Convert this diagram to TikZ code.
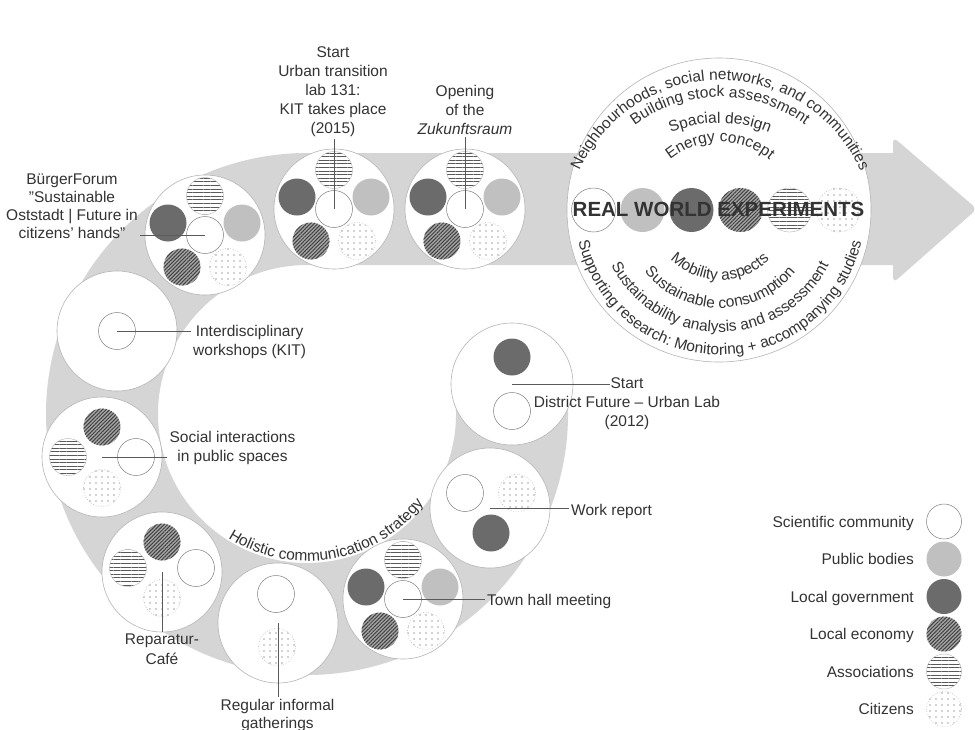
\documentclass[tikz,border=0pt]{standalone}
\usepackage{fontspec}
\setmainfont{Liberation Sans}
\usetikzlibrary{calc, patterns.meta, decorations.text}

\definecolor{ink}{HTML}{333333}
\definecolor{bandgrey}{HTML}{D5D5D5}
\definecolor{pubgrey}{HTML}{C0C0C0}
\definecolor{govgrey}{HTML}{6B6B6B}
\definecolor{rimgrey}{HTML}{B5B5B5}
\definecolor{leadgrey}{HTML}{5A5A5A}

\begin{document}
\begin{tikzpicture}[
    x=1pt, y=1pt,
    band/.style={
        draw=bandgrey,
        line width=112pt,
    },
    stage/.style={
        circle,
        draw=rimgrey,
        line width=0.6pt,
        fill=white,
        minimum size=120pt,
        inner sep=0pt,
    },
    actor/.style={
        circle,
        minimum size=37pt,
        inner sep=0pt,
    },
    sci/.style={actor, draw=rimgrey!70!black, line width=0.5pt, fill=white},
    pub/.style={actor, fill=pubgrey},
    gov/.style={actor, fill=govgrey},
    eco/.style={actor, preaction={fill=black!35}, pattern={Lines[angle=45, distance=2.6pt, line width=1pt]}, pattern color=black!75},
    assoc/.style={actor, draw=rimgrey, line width=0.4pt, preaction={fill=white}, pattern={Lines[angle=0, distance=3.6pt, line width=0.9pt]}, pattern color=black!65},
    cit/.style={actor, draw=rimgrey, dotted, line width=0.6pt, preaction={fill=white}, pattern={Dots[distance=6pt, radius=0.55pt]}, pattern color=black!75},
    leader/.style={
        draw=leadgrey,
        line width=0.7pt,
    },
    milestone/.style={
        font=\fontsize{15.5}{19}\selectfont,
        text=ink,
        align=center,
        inner sep=2pt,
    },
    arctext/.style={
        decorate,
        decoration={text along path, text align=center,
            text={|\fontsize{15.5}{19}\selectfont\color{ink}|#1}},
    },
]
    % Frame
    \useasboundingbox (0,0) rectangle (975,-729);
    \fill[white] (0,0) rectangle (975,-729);

    % Spiral band and arrow head
    \coordinate (hole) at (307,-414);
    \draw[band] ([shift={(8:205)}]hole) arc[start angle=8, end angle=-270, radius=205] -- (893,-209);
    \fill[bandgrey, rounded corners=6pt] (893,-137) -- (977,-209) -- (893,-283) -- cycle;
    \path[arctext={Holistic communication strategy}] ([shift={(-131:147)}]hole) arc[start angle=-131, end angle=-29, radius=147];

    % Stages with all six actors
    \foreach \g/\cx/\cy in {buerger/205/235, urban/334/209, opening/465/209, townhall/403/599} {
        \node[stage] (\g) at (\cx,-\cy) {};
        \node[sci] (\g-sci) at (\g) {};
        \node[assoc] (\g-assoc) at ($(\g)+(0,39)$) {};
        \node[gov] (\g-gov) at ($(\g)+(-37,12)$) {};
        \node[pub] (\g-pub) at ($(\g)+(37,12)$) {};
        \node[eco] (\g-eco) at ($(\g)+(-23,-32)$) {};
        \node[cit] (\g-cit) at ($(\g)+(23,-32)$) {};
    }

    % Other stages
    \node[stage, minimum size=122pt] (district) at (512,-384) {};
    \node[gov] (district-gov) at (512,-357) {};
    \node[sci] (district-sci) at (512,-411) {};

    \node[stage] (work) at (490,-508) {};
    \node[sci] (work-sci) at (465,-493) {};
    \node[cit] (work-cit) at (517,-493) {};
    \node[gov] (work-gov) at (491,-533) {};

    \node[stage] (regular) at (278,-623) {};
    \node[sci] (regular-sci) at (276,-594) {};
    \node[cit] (regular-cit) at (277,-647) {};

    \node[stage] (repair) at (162,-572) {};
    \node[eco] (repair-eco) at (162,-542) {};
    \node[assoc] (repair-assoc) at (128,-568) {};
    \node[sci] (repair-sci) at (196,-568) {};
    \node[cit] (repair-cit) at (162,-598) {};

    \node[stage] (social) at (102,-457) {};
    \node[eco] (social-eco) at (102,-427) {};
    \node[assoc] (social-assoc) at (68,-457) {};
    \node[sci] (social-sci) at (136,-457) {};
    \node[cit] (social-cit) at (102,-488) {};

    \node[stage] (workshop) at (117,-331) {};
    \node[sci] (workshop-sci) at (117,-331) {};

    % Real world experiments
    \node[stage, minimum size=304pt] (rwe) at (719,-210) {};
    \node[sci, minimum size=44pt] (rwe-sci) at (593.5,-210) {};
    \node[pub, minimum size=44pt] (rwe-pub) at (642.5,-210) {};
    \node[gov, minimum size=44pt] (rwe-gov) at (691.5,-210) {};
    \node[eco, minimum size=44pt] (rwe-eco) at (740.5,-210) {};
    \node[assoc, minimum size=44pt] (rwe-assoc) at (789.5,-210) {};
    \node[cit, minimum size=44pt] (rwe-cit) at (838.5,-210) {};
    \node[font=\fontsize{20.5}{24}\selectfont\bfseries, text=ink, anchor=base] (rwe-title) at (718.5,-216) {REAL WORLD EXPERIMENTS};

    \path[arctext={Neighbourhoods, social networks, and communities}] ([shift={(172:154)}]720,-234) arc[start angle=172, end angle=8, radius=154];
    \path[arctext={Building stock assessment}] ([shift={(150:143)}]720,-240) arc[start angle=150, end angle=30, radius=143];
    \path[arctext={Spacial design}] ([shift={(130:127)}]720,-250) arc[start angle=130, end angle=50, radius=127];
    \path[arctext={Energy concept}] ([shift={(160:78)}]720,-220) arc[start angle=160, end angle=20, radius=78];
    \path[arctext={Mobility aspects}] ([shift={(-170:70)}]720,-210) arc[start angle=-170, end angle=-10, radius=70];
    \path[arctext={Sustainable consumption}] ([shift={(-170:97)}]720,-211) arc[start angle=-170, end angle=-10, radius=97];
    \path[arctext={Sustainability analysis and assessment}] ([shift={(-175:122)}]720,-210) arc[start angle=-175, end angle=-5, radius=122];
    \path[arctext={Supporting research: Monitoring + accompanying studies}] ([shift={(-178:145)}]720,-210) arc[start angle=-178, end angle=-2, radius=145];

    % Milestone labels
    \node[milestone, anchor=north] (urban-label) at (333,-44.7) {Start\\Urban transition\\lab 131:\\KIT takes place\\(2015)};
    \node[milestone, anchor=north] (opening-label) at (465,-83.5) {Opening\\of the\\\textit{Zukunftsraum}};
    \node[milestone, anchor=north, font=\fontsize{15.5}{18}\selectfont] (buerger-label) at (72,-171.7) {BürgerForum\\\symbol{34}Sustainable\\Oststadt | Future in\\citizens\symbol{39} hands\symbol{34}};
    \node[milestone, anchor=north west] (workshop-label) at (191,-322.7) {Interdisciplinary\\workshops (KIT)};
    \node[milestone, anchor=north] (social-label) at (232.5,-428.7) {Social interactions\\in public spaces};
    \node[milestone, anchor=north, font=\fontsize{15.5}{20}\selectfont] (repair-label) at (162,-631.7) {Reparatur-\\Café};
    \node[milestone, anchor=north, font=\fontsize{15.5}{18.5}\selectfont] (regular-label) at (277.5,-696.7) {Regular informal\\gatherings};
    \node[milestone, anchor=base west] (townhall-label) at (485,-605) {Town hall meeting};
    \node[milestone, anchor=base west] (work-label) at (569,-515) {Work report};
    \node[milestone, anchor=north] (district-label) at (627,-375.7) {Start\\District Future -- Urban Lab\\(2012)};

    % Leaders
    \coordinate (district-tip) at (610,-384);
    \draw[leader] (district.center) -- (district-tip);
    \draw[leader] (work.center) -- (work.center -| work-label.west);
    \draw[leader] (townhall-sci.center) -- (townhall-sci.center -| townhall-label.west);
    \draw[leader] (regular.center) -- (regular.center |- regular-label.north);
    \draw[leader] (repair.center) -- (repair.center |- repair-label.north);
    \draw[leader] (social.center) -- (social.center -| social-label.west);
    \draw[leader] (workshop.center) -- (workshop.center -| workshop-label.west);
    \draw[leader] (buerger-sci.center) -- (buerger-sci.center -| buerger-label.east);
    \draw[leader] (urban-sci.center) -- (urban-sci.center |- urban-label.south);
    \draw[leader] (opening-sci.center) -- (opening-sci.center |- opening-label.south);

    % Legend
    \node[sci, minimum size=35pt] (key-sci) at (944,-521.5) {};
    \node[pub, minimum size=35pt] (key-pub) at (944,-559) {};
    \node[gov, minimum size=35pt] (key-gov) at (944,-596.5) {};
    \node[eco, minimum size=35pt] (key-eco) at (944,-634) {};
    \node[assoc, minimum size=35pt] (key-assoc) at (944,-671.5) {};
    \node[cit, minimum size=35pt] (key-cit) at (944,-709) {};
    \node[milestone, anchor=base east] (key-sci-text) at (916,-527) {Scientific community};
    \node[milestone, anchor=base east] (key-pub-text) at (916,-564.5) {Public bodies};
    \node[milestone, anchor=base east] (key-gov-text) at (916,-602) {Local government};
    \node[milestone, anchor=base east] (key-eco-text) at (916,-639.5) {Local economy};
    \node[milestone, anchor=base east] (key-assoc-text) at (916,-677) {Associations};
    \node[milestone, anchor=base east] (key-cit-text) at (916,-714.5) {Citizens};
\end{tikzpicture}
\end{document}
